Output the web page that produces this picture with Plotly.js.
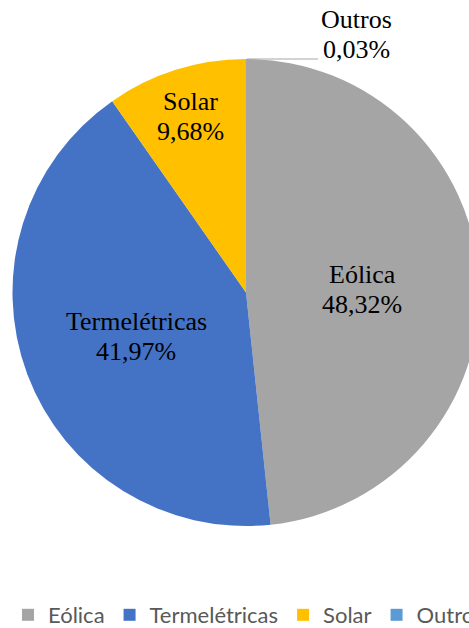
<!DOCTYPE html>
<html>
<head>
<meta charset="utf-8">
<script src="https://cdn.plot.ly/plotly-3.0.1.min.js"></script>
<style>
html,body{margin:0;padding:0;overflow:hidden;background:#fff;}
#chart{width:492px;height:628px;}
</style>
</head>
<body>
<div id="chart"></div>
<script>
// Data
const categories = ['Eólica', 'Termelétricas', 'Solar', 'Outros'];
const shares = [48.32, 41.97, 9.68, 0.03];
const colors = ['#A5A5A5', '#4472C4', '#FFC000', '#5B9BD5'];

const W = 492, H = 628;
const fmt = v => v.toFixed(2).replace('.', ',') + '%';

// label positions (pixel centers of each text line)
const labelPos = [
  {x: 362, y1: 274, y2: 304},
  {x: 136, y1: 321, y2: 351},
  {x: 190, y1: 101, y2: 131},
  {x: 356, y1: 20, y2: 50}
];

const annotations = [];
categories.forEach((c, i) => {
  const p = labelPos[i];
  const f = {family: 'Liberation Serif, Times New Roman, serif', size: 26, color: '#000'};
  annotations.push({xref: 'paper', yref: 'paper', x: p.x / W, y: 1 - p.y1 / H, text: c,
    showarrow: false, xanchor: 'center', yanchor: 'middle', font: f});
  annotations.push({xref: 'paper', yref: 'paper', x: p.x / W, y: 1 - p.y2 / H, text: fmt(shares[i]),
    showarrow: false, xanchor: 'center', yanchor: 'middle', font: f});
});

const cx = 246, cy = 292.5, r = 233.5;
const trace = {
  type: 'pie',
  labels: categories,
  values: shares,
  marker: {colors: colors, line: {width: 0}},
  sort: false,
  direction: 'clockwise',
  rotation: 0,
  textinfo: 'none',
  hoverinfo: 'none',
  domain: {x: [(cx - r) / W, (cx + r) / W], y: [1 - (cy + r) / H, 1 - (cy - r) / H]}
};

const layout = {
  width: W, height: H,
  margin: {l: 0, r: 0, t: 0, b: 0, autoexpand: false},
  paper_bgcolor: '#fff',
  showlegend: true,
  legend: {
    orientation: 'h', x: 8 / W, xanchor: 'left', y: 1 - 594 / H, yanchor: 'top',
    font: {family: 'Lato, Calibri, sans-serif', size: 22, color: '#595959'},
    traceorder: 'normal'
  },
  annotations: annotations,
  shapes: [{type: 'line', xref: 'paper', yref: 'paper', x0: 247 / W, x1: 318 / W,
    y0: 1 - 59 / H, y1: 1 - 59 / H, line: {color: '#a6a6a6', width: 1}}]
};

Plotly.newPlot('chart', [trace], layout, {displayModeBar: false, staticPlot: true});
</script>
</body>
</html>
